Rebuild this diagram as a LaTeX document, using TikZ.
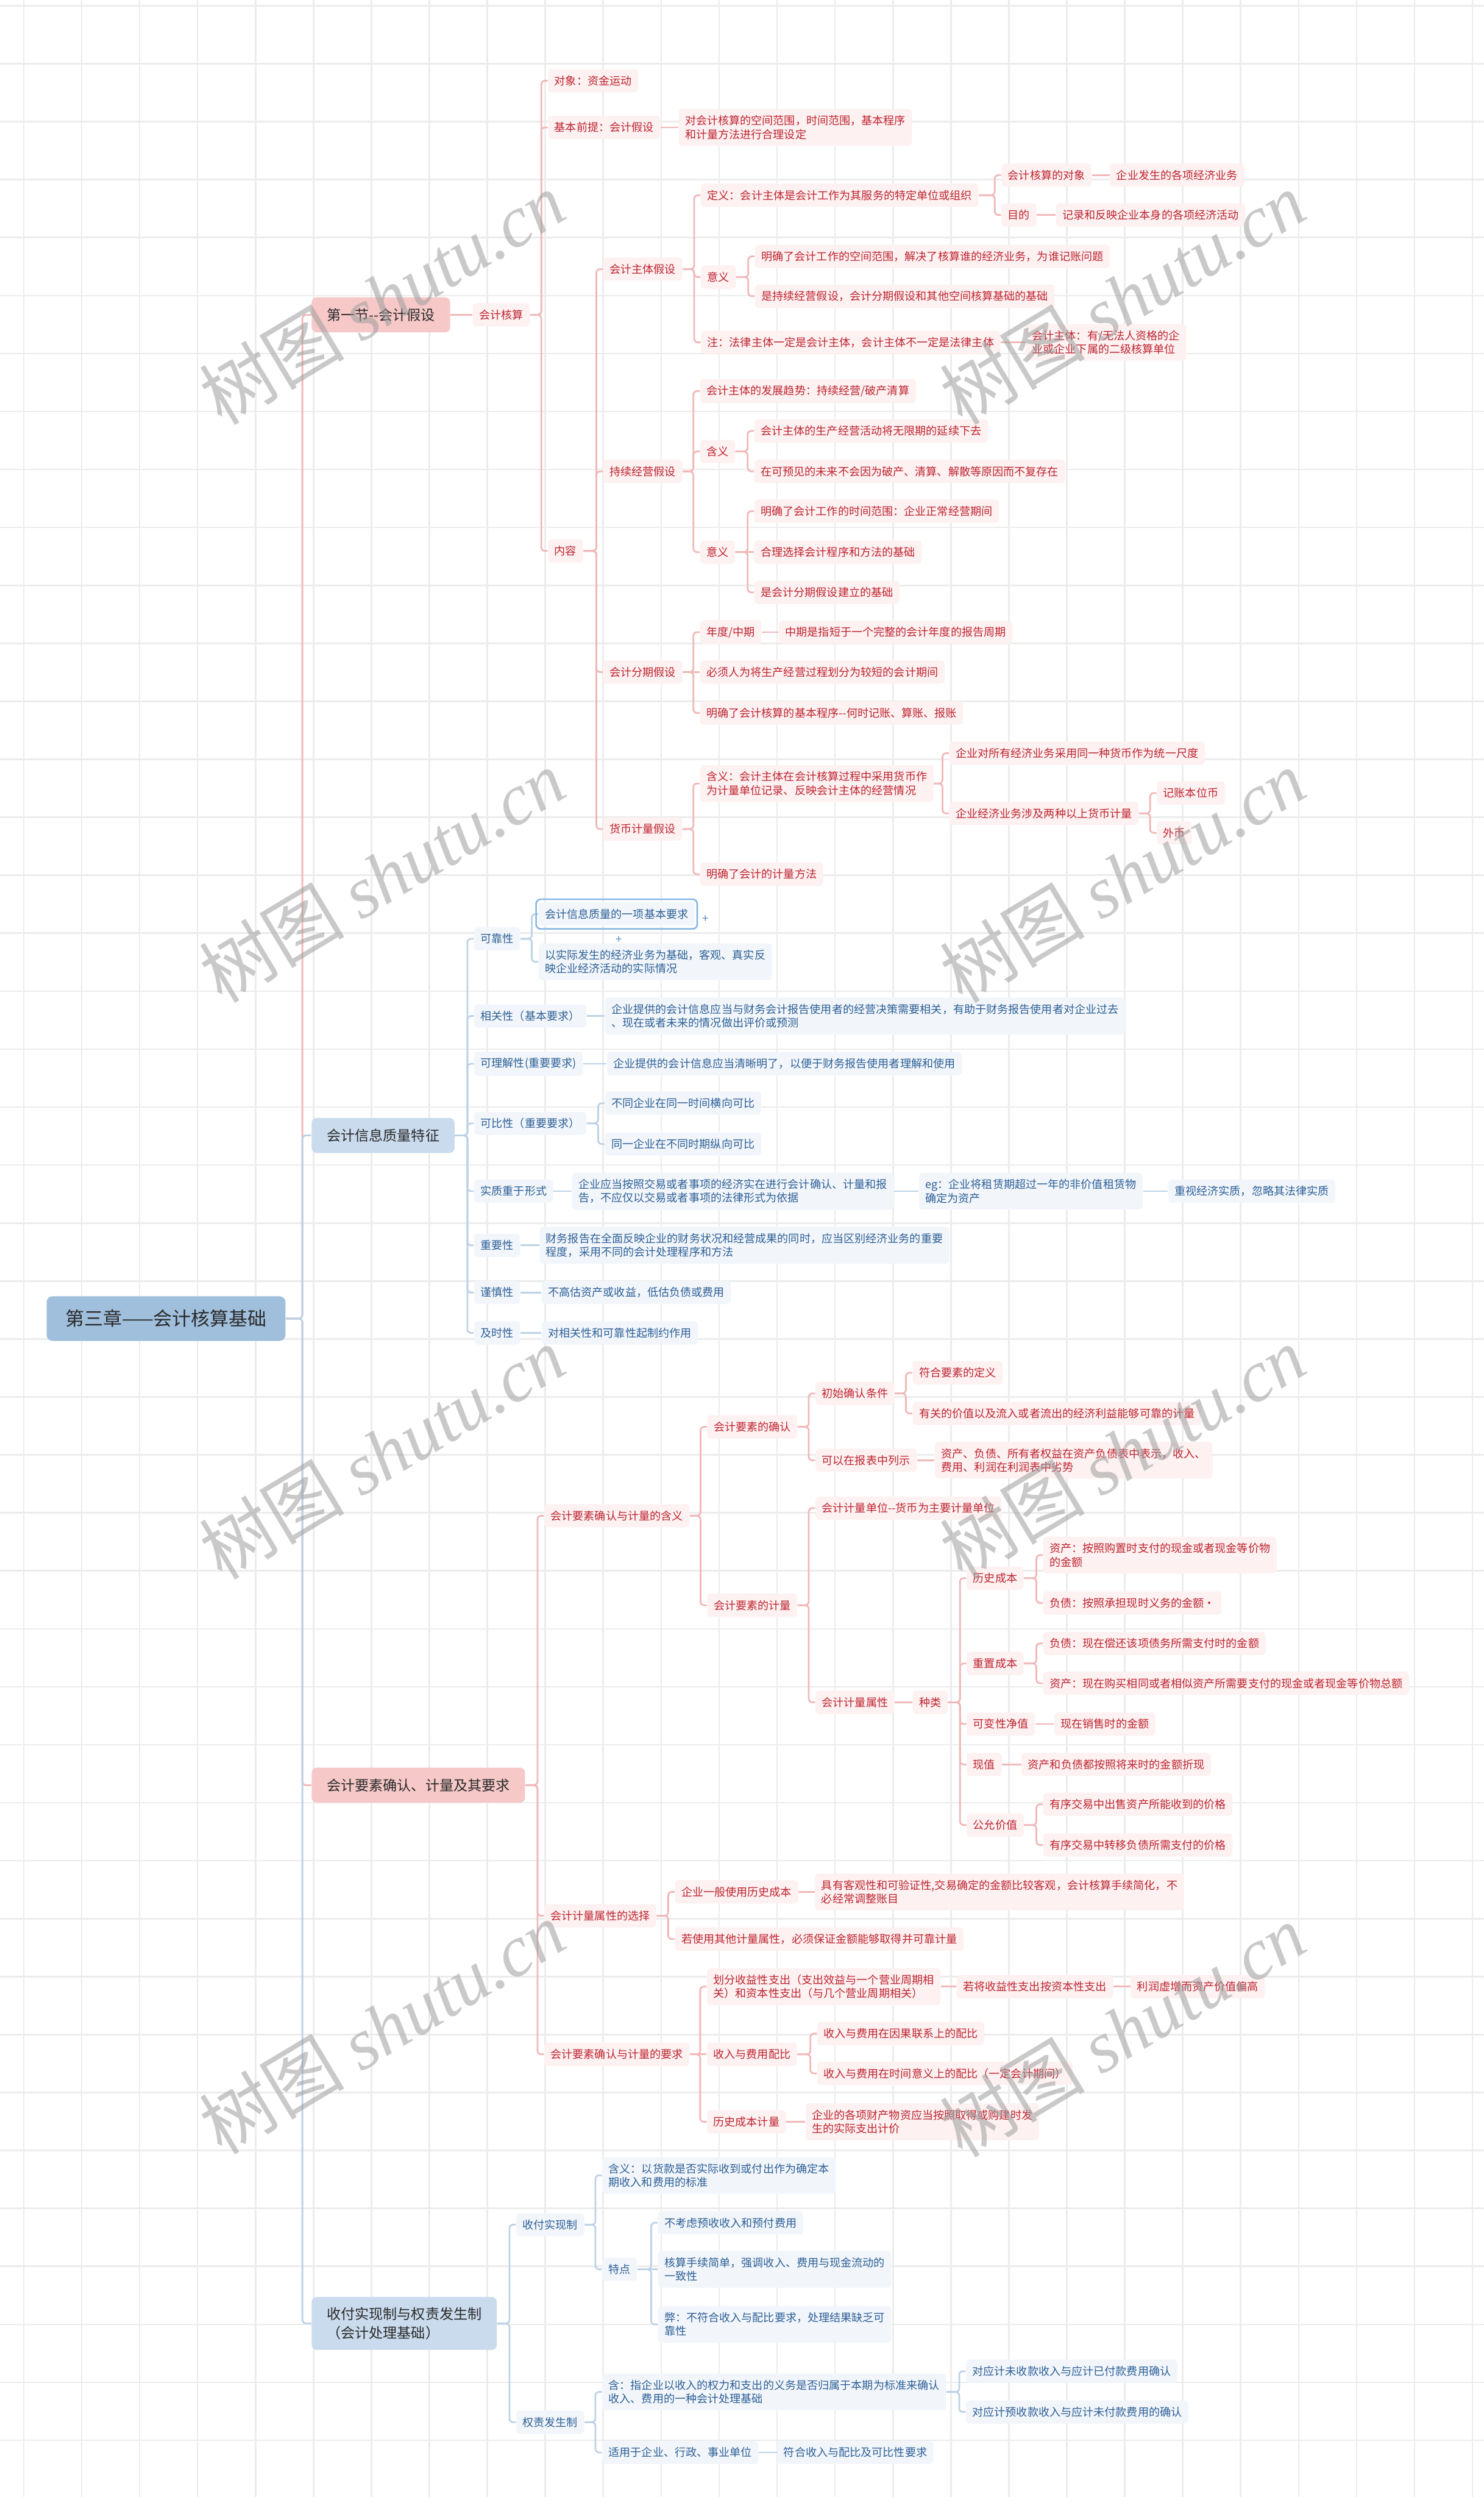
\documentclass[tikz,border=0pt]{standalone}
\usepackage{fontspec}
\newfontfamily\cjk{Noto Sans CJK SC}
\newfontfamily\wmlat{Liberation Serif}
\usetikzlibrary{backgrounds}
\definecolor{rtext}{HTML}{BE2430}
\definecolor{btext}{HTML}{2D5F96}
\definecolor{rfill}{HTML}{FDF1F1}
\definecolor{bfill}{HTML}{F2F6FB}
\definecolor{rline}{HTML}{F1B8B8}
\definecolor{bline}{HTML}{BCD2E6}
\definecolor{lrfill}{HTML}{F6C8C8}
\definecolor{lbfill}{HTML}{C9DBED}
\definecolor{rootfill}{HTML}{9FBFDC}
\definecolor{ltext}{HTML}{2A2A2A}
\definecolor{gridc}{HTML}{ECECEC}
\definecolor{selb}{HTML}{86B8E4}
\definecolor{plusc}{HTML}{5A8CCC}
\definecolor{wmc}{HTML}{9E9E9E}
\newcommand\mylk[4][2.8pt]{\draw[#2] (#3.east) -| ([xshift=-#1]#4.west) -- (#4.west);}
\newcommand\mysk[3]{\draw[#1] (#2.east) -- (#3.west);}
\tikzset{
  rn/.style={anchor=west, fill=rfill, text=rtext, font=\cjk\fontsize{4.85pt}{6pt}\selectfont,
    inner xsep=2.8pt, inner ysep=2.8pt, rounded corners=1.6pt, align=left, minimum height=10.2pt},
  bn/.style={rn, fill=bfill, text=btext},
  lr/.style={anchor=west, fill=lrfill, text=ltext, font=\cjk\fontsize{6.2pt}{8.4pt}\selectfont,
    inner xsep=6.6pt, inner ysep=4.5pt, rounded corners=2.2pt, align=left, minimum height=15.4pt},
  lb/.style={lr, fill=lbfill},
  rootn/.style={anchor=west, fill=rootfill, text=ltext, font=\cjk\fontsize{8.3pt}{10pt}\selectfont,
    inner xsep=8.2pt, inner ysep=5.6pt, rounded corners=2.6pt, minimum height=19.6pt},
  rl/.style={draw=rline, line width=0.75pt, rounded corners=1.6pt},
  bl/.style={draw=bline, line width=0.75pt, rounded corners=1.6pt},
  plusn/.style={text=plusc, font=\cjk\fontsize{5pt}{5pt}\selectfont, inner sep=0pt},
  wm/.style={rotate=31, text=wmc, text opacity=0.55, inner sep=0pt,
    font=\cjk\fontsize{32pt}{32pt}\selectfont},
}
\begin{document}
\begin{tikzpicture}[x=0.7pt,y=-0.7pt]
\useasboundingbox (0,0) rectangle (932,1568);
\begin{pgfonlayer}{background}
\fill[white] (0,0) rectangle (932,1568);
\foreach \i in {0,...,25} \draw[gridc, line width=0.7pt] ({14.9+36.4*\i},0) -- ({14.9+36.4*\i},1568);
\foreach \i in {0,...,42} \draw[gridc, line width=0.7pt] (0,{3.6+36.4*\i}) -- (932,{3.6+36.4*\i});
\end{pgfonlayer}

% root and level 1
\node[rootn] (root) at (29,828) {第三章——会计核算基础};
\node[lr] (s1) at (195.5,197.7) {第一节--会计假设};
\node[lb] (s2) at (195.5,713) {会计信息质量特征};
\node[lr] (s3) at (195.5,1121) {会计要素确认、计量及其要求};
\node[lb] (s4) at (195.5,1459) {收付实现制与权责发生制\\（会计处理基础）};

% section 1
\node[rn] (hs) at (296.7,197.7) {会计核算};
\node[rn] (dx) at (344,50.7) {对象：资金运动};
\node[rn] (jb) at (344,80) {基本前提：会计假设};
\node[rn] (jb1) at (426,80) {对会计核算的空间范围，时间范围，基本程序\\和计量方法进行合理设定};
\node[rn] (nr) at (344,346) {内容};
\node[rn] (zt) at (378.6,169) {会计主体假设};
\node[rn] (cx) at (378.6,296) {持续经营假设};
\node[rn] (fq) at (378.6,422) {会计分期假设};
\node[rn] (hb) at (378.6,520.6) {货币计量假设};
\node[rn] (dy) at (440,122.6) {定义：会计主体是会计工作为其服务的特定单位或组织};
\node[rn] (yy1) at (440,174) {意义};
\node[rn] (zhu) at (440,215) {注：法律主体一定是会计主体，会计主体不一定是法律主体};
\node[rn] (dx2) at (628.8,110) {会计核算的对象};
\node[rn] (md) at (628.8,135) {目的};
\node[rn] (dx3) at (697,110) {企业发生的各项经济业务};
\node[rn] (md2) at (663,135) {记录和反映企业本身的各项经济活动};
\node[rn] (yy1a) at (474,161) {明确了会计工作的空间范围，解决了核算谁的经济业务，为谁记账问题};
\node[rn] (yy1b) at (474,186) {是持续经营假设，会计分期假设和其他空间核算基础的基础};
\node[rn] (zhu2) at (644,215) {会计主体：有/无法人资格的企\\业或企业下属的二级核算单位};
\node[rn] (cx1) at (439.5,245.6) {会计主体的发展趋势：持续经营/破产清算};
\node[rn] (hy1) at (439.5,283.5) {含义};
\node[rn] (yy2) at (439.5,346.7) {意义};
\node[rn] (hy1a) at (473.6,270.6) {会计主体的生产经营活动将无限期的延续下去};
\node[rn] (hy1b) at (473.6,296) {在可预见的未来不会因为破产、清算、解散等原因而不复存在};
\node[rn] (yy2a) at (473.6,321) {明确了会计工作的时间范围：企业正常经营期间};
\node[rn] (yy2b) at (473.6,346.7) {合理选择会计程序和方法的基础};
\node[rn] (yy2c) at (473.6,372) {是会计分期假设建立的基础};
\node[rn] (fq1) at (439.5,397) {年度/中期};
\node[rn] (fq1a) at (489,397) {中期是指短于一个完整的会计年度的报告周期};
\node[rn] (fq2) at (439.5,422) {必须人为将生产经营过程划分为较短的会计期间};
\node[rn] (fq3) at (439.5,447.7) {明确了会计核算的基本程序--何时记账、算账、报账};
\node[rn] (hb1) at (439.5,492) {含义：会计主体在会计核算过程中采用货币作\\为计量单位记录、反映会计主体的经营情况};
\node[rn] (hb2) at (439.5,549) {明确了会计的计量方法};
\node[rn] (hb1a) at (596,473) {企业对所有经济业务采用同一种货币作为统一尺度};
\node[rn] (hb1b) at (596,510.8) {企业经济业务涉及两种以上货币计量};
\node[rn] (bwb) at (726.4,498) {记账本位币};
\node[rn] (wb) at (726.4,523) {外币};

% section 2
\node[bn] (kk) at (297.6,589.5) {可靠性};
\node[bn] (kk1) at (338,574) {会计信息质量的一项基本要求};
\draw[selb, line width=0.7pt, rounded corners=2pt] ([xshift=-0.9pt,yshift=1.2pt]kk1.north west) rectangle ([xshift=0.9pt,yshift=-1.2pt]kk1.south east);
\node[plusn] (p1) at (443,577.3) {+};
\node[plusn] (p2) at (388.8,590) {+};
\node[bn] (kk2) at (338,604) {以实际发生的经济业务为基础，客观、真实反\\映企业经济活动的实际情况};
\node[bn] (xg) at (297.6,638) {相关性（基本要求）};
\node[bn] (xg1) at (379.7,638) {企业提供的会计信息应当与财务会计报告使用者的经营决策需要相关，有助于财务报告使用者对企业过去\\、现在或者未来的情况做出评价或预测};
\node[bn] (lj) at (297.6,668) {可理解性(重要要求)};
\node[bn] (lj1) at (381,668) {企业提供的会计信息应当清晰明了，以便于财务报告使用者理解和使用};
\node[bn] (kb) at (297.6,705.4) {可比性（重要要求）};
\node[bn] (kb1) at (379.7,692.8) {不同企业在同一时间横向可比};
\node[bn] (kb2) at (379.7,718.4) {同一企业在不同时期纵向可比};
\node[bn] (sz) at (297.6,748) {实质重于形式};
\node[bn] (sz1) at (359,748) {企业应当按照交易或者事项的经济实在进行会计确认、计量和报\\告，不应仅以交易或者事项的法律形式为依据};
\node[bn] (sz2) at (577,748) {eg：企业将租赁期超过一年的非价值租赁物\\确定为资产};
\node[bn] (sz3) at (733.5,748) {重视经济实质，忽略其法律实质};
\node[bn] (zy) at (297.6,782) {重要性};
\node[bn] (zy1) at (338.6,782) {财务报告在全面反映企业的财务状况和经营成果的同时，应当区别经济业务的重要\\程度，采用不同的会计处理程序和方法};
\node[bn] (js) at (297.6,811.6) {谨慎性};
\node[bn] (js1) at (340,811.6) {不高估资产或收益，低估负债或费用};
\node[bn] (jsx) at (297.6,837) {及时性};
\node[bn] (jsx1) at (340,837) {对相关性和可靠性起制约作用};

% section 3
\node[rn] (ys) at (341.6,951.8) {会计要素确认与计量的含义};
\node[rn] (xz) at (341.6,1203) {会计计量属性的选择};
\node[rn] (yq) at (341.6,1290) {会计要素确认与计量的要求};
\node[rn] (qr) at (444,896) {会计要素的确认};
\node[rn] (jl) at (444,1008) {会计要素的计量};
\node[rn] (cs) at (512,875) {初始确认条件};
\node[rn] (lbl) at (512,917) {可以在报表中列示};
\node[rn] (cs1) at (573,862) {符合要素的定义};
\node[rn] (cs2) at (573,887.6) {有关的价值以及流入或者流出的经济利益能够可靠的计量};
\node[rn] (lbl1) at (587,917) {资产、负债、所有者权益在资产负债表中表示，收入、\\费用、利润在利润表中劣势};
\node[rn] (dw) at (512,947) {会计计量单位--货币为主要计量单位};
\node[rn] (sx) at (512,1069) {会计计量属性};
\node[rn] (zl) at (573,1069) {种类};
\node[rn] (lscb) at (607,991) {历史成本};
\node[rn] (lscb1) at (655,976.5) {资产：按照购置时支付的现金或者现金等价物\\的金额};
\node[rn] (lscb2) at (655,1006.6) {负债：按照承担现时义务的金额·};
\node[rn] (czcb) at (607,1044.6) {重置成本};
\node[rn] (czcb1) at (655,1032) {负债：现在偿还该项债务所需支付时的金额};
\node[rn] (czcb2) at (655,1057) {资产：现在购买相同或者相似资产所需要支付的现金或者现金等价物总额};
\node[rn] (kbx) at (607,1082.6) {可变性净值};
\node[rn] (kbx1) at (662,1082.6) {现在销售时的金额};
\node[rn] (xzh) at (607,1108) {现值};
\node[rn] (xzh1) at (641.4,1108) {资产和负债都按照将来时的金额折现};
\node[rn] (gy) at (607,1146) {公允价值};
\node[rn] (gy1) at (655,1133) {有序交易中出售资产所能收到的价格};
\node[rn] (gy2) at (655,1158.6) {有序交易中转移负债所需支付的价格};
\node[rn] (xz1) at (423.7,1188) {企业一般使用历史成本};
\node[rn] (xz1a) at (511.7,1188) {具有客观性和可验证性,交易确定的金额比较客观，会计核算手续简化，不\\必经常调整账目};
\node[rn] (xz2) at (423.7,1217.6) {若使用其他计量属性，必须保证金额能够取得并可靠计量};
\node[rn] (yq1) at (443.8,1247.5) {划分收益性支出（支出效益与一个营业周期相\\关）和资本性支出（与几个营业周期相关）};
\node[rn] (yq1a) at (600.7,1247.5) {若将收益性支出按资本性支出};
\node[rn] (yq1b) at (710,1247.5) {利润虚增而资产价值偏高};
\node[rn] (yq2) at (443.8,1290) {收入与费用配比};
\node[rn] (yq2a) at (513,1277) {收入与费用在因果联系上的配比};
\node[rn] (yq2b) at (513,1302) {收入与费用在时间意义上的配比（一定会计期间）};
\node[rn] (yq3) at (443.8,1332.4) {历史成本计量};
\node[rn] (yq3a) at (505.7,1332.4) {企业的各项财产物资应当按照取得或购建时发\\生的实际支出计价};

% section 4
\node[bn] (sf) at (324,1397) {收付实现制};
\node[bn] (qz) at (324,1521) {权责发生制};
\node[bn] (sf1) at (378,1366) {含义：以货款是否实际收到或付出作为确定本\\期收入和费用的标准};
\node[bn] (td) at (378,1425) {特点};
\node[bn] (td1) at (413,1395.8) {不考虑预收收入和预付费用};
\node[bn] (td2) at (413,1425) {核算手续简单，强调收入、费用与现金流动的\\一致性};
\node[bn] (td3) at (413,1459.6) {弊：不符合收入与配比要求，处理结果缺乏可\\靠性};
\node[bn] (qz1) at (378,1502) {含：指企业以收入的权力和支出的义务是否归属于本期为标准来确认\\收入、费用的一种会计处理基础};
\node[bn] (qz1a) at (606.5,1489) {对应计未收款收入与应计已付款费用确认};
\node[bn] (qz1b) at (606.5,1514.6) {对应计预收款收入与应计未付款费用的确认};
\node[bn] (qz2) at (378,1540) {适用于企业、行政、事业单位};
\node[bn] (qz2a) at (488,1540) {符合收入与配比及可比性要求};

% connectors
\begin{pgfonlayer}{background}
\mylk[3.9pt]{rl}{root}{s1}
\mylk[3.9pt]{rl}{root}{s3}
\mylk[3.9pt]{bl}{root}{s2}
\mylk[3.9pt]{bl}{root}{s4}
% section 1
\mysk{rl}{s1}{hs}
\mylk{rl}{hs}{dx}\mylk{rl}{hs}{jb}\mylk{rl}{hs}{nr}
\mysk{rl}{jb}{jb1}
\mylk{rl}{nr}{zt}\mylk{rl}{nr}{cx}\mylk{rl}{nr}{fq}\mylk{rl}{nr}{hb}
\mylk{rl}{zt}{dy}\mylk{rl}{zt}{yy1}\mylk{rl}{zt}{zhu}
\mylk{rl}{dy}{dx2}\mylk{rl}{dy}{md}
\mysk{rl}{dx2}{dx3}\mysk{rl}{md}{md2}
\mylk{rl}{yy1}{yy1a}\mylk{rl}{yy1}{yy1b}
\mysk{rl}{zhu}{zhu2}
\mylk{rl}{cx}{cx1}\mylk{rl}{cx}{hy1}\mylk{rl}{cx}{yy2}
\mylk{rl}{hy1}{hy1a}\mylk{rl}{hy1}{hy1b}
\mylk{rl}{yy2}{yy2a}\mysk{rl}{yy2}{yy2b}\mylk{rl}{yy2}{yy2c}
\mylk{rl}{fq}{fq1}\mysk{rl}{fq}{fq2}\mylk{rl}{fq}{fq3}
\mysk{rl}{fq1}{fq1a}
\mylk{rl}{hb}{hb1}\mylk{rl}{hb}{hb2}
\mylk{rl}{hb1}{hb1a}\mylk{rl}{hb1}{hb1b}
\mylk{rl}{hb1b}{bwb}\mylk{rl}{hb1b}{wb}
% section 3
\mylk{rl}{s3}{ys}\mylk{rl}{s3}{xz}\mylk{rl}{s3}{yq}
\mylk{rl}{ys}{qr}\mylk{rl}{ys}{jl}
\mylk{rl}{qr}{cs}\mylk{rl}{qr}{lbl}
\mylk{rl}{cs}{cs1}\mylk{rl}{cs}{cs2}
\mysk{rl}{lbl}{lbl1}
\mylk{rl}{jl}{dw}\mylk{rl}{jl}{sx}
\mysk{rl}{sx}{zl}
\mylk{rl}{zl}{lscb}\mylk{rl}{zl}{czcb}\mylk{rl}{zl}{kbx}\mylk{rl}{zl}{xzh}\mylk{rl}{zl}{gy}
\mylk{rl}{lscb}{lscb1}\mylk{rl}{lscb}{lscb2}
\mylk{rl}{czcb}{czcb1}\mylk{rl}{czcb}{czcb2}
\mysk{rl}{kbx}{kbx1}\mysk{rl}{xzh}{xzh1}
\mylk{rl}{gy}{gy1}\mylk{rl}{gy}{gy2}
\mylk{rl}{xz}{xz1}\mylk{rl}{xz}{xz2}
\mysk{rl}{xz1}{xz1a}
\mylk{rl}{yq}{yq1}\mysk{rl}{yq}{yq2}\mylk{rl}{yq}{yq3}
\mysk{rl}{yq1}{yq1a}\mysk{rl}{yq1a}{yq1b}
\mylk{rl}{yq2}{yq2a}\mylk{rl}{yq2}{yq2b}
\mysk{rl}{yq3}{yq3a}
% section 2
\mylk{bl}{s2}{kk}\mylk{bl}{s2}{xg}\mylk{bl}{s2}{lj}\mylk{bl}{s2}{kb}
\mylk{bl}{s2}{sz}\mylk{bl}{s2}{zy}\mylk{bl}{s2}{js}\mylk{bl}{s2}{jsx}
\mylk{bl}{kk}{kk1}\mylk{bl}{kk}{kk2}
\mysk{bl}{xg}{xg1}\mysk{bl}{lj}{lj1}
\mylk{bl}{kb}{kb1}\mylk{bl}{kb}{kb2}
\mysk{bl}{sz}{sz1}\mysk{bl}{sz1}{sz2}\mysk{bl}{sz2}{sz3}
\mysk{bl}{zy}{zy1}\mysk{bl}{js}{js1}\mysk{bl}{jsx}{jsx1}
% section 4
\mylk{bl}{s4}{sf}\mylk{bl}{s4}{qz}
\mylk{bl}{sf}{sf1}\mylk{bl}{sf}{td}
\mylk{bl}{td}{td1}\mysk{bl}{td}{td2}\mylk{bl}{td}{td3}
\mylk{bl}{qz}{qz1}\mylk{bl}{qz}{qz2}
\mylk{bl}{qz1}{qz1a}\mylk{bl}{qz1}{qz1b}
\mysk{bl}{qz2}{qz2a}
\end{pgfonlayer}

% watermarks
\node[wm] (w1) at (240,187) {树图 {\wmlat\itshape shutu.cn}};
\node[wm] (w2) at (705,187) {树图 {\wmlat\itshape shutu.cn}};
\node[wm] (w3) at (240,550) {树图 {\wmlat\itshape shutu.cn}};
\node[wm] (w4) at (705,550) {树图 {\wmlat\itshape shutu.cn}};
\node[wm] (w5) at (240,912) {树图 {\wmlat\itshape shutu.cn}};
\node[wm] (w6) at (705,912) {树图 {\wmlat\itshape shutu.cn}};
\node[wm] (w7) at (240,1273) {树图 {\wmlat\itshape shutu.cn}};
\node[wm] (w8) at (705,1275) {树图 {\wmlat\itshape shutu.cn}};
\end{tikzpicture}
\end{document}
